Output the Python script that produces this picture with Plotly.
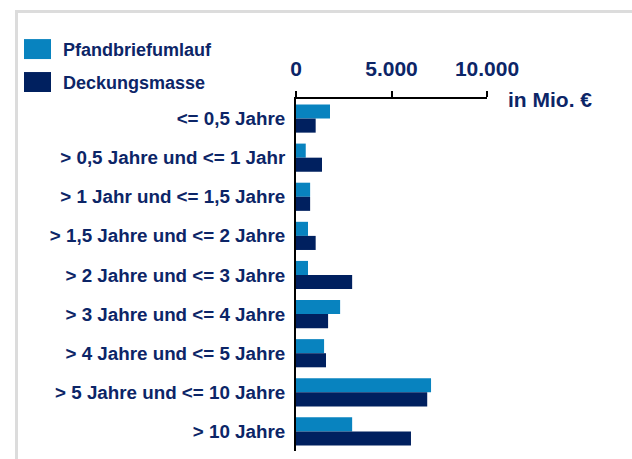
import plotly.graph_objects as go

categories = [
    "<= 0,5 Jahre",
    "> 0,5 Jahre und <= 1 Jahr",
    "> 1 Jahr und <= 1,5 Jahre",
    "> 1,5 Jahre und <= 2 Jahre",
    "> 2 Jahre und <= 3 Jahre",
    "> 3 Jahre und <= 4 Jahre",
    "> 4 Jahre und <= 5 Jahre",
    "> 5 Jahre und <= 10 Jahre",
    "> 10 Jahre",
]
pfandbriefumlauf = [1780, 510, 740, 630, 630, 2310, 1470, 7070, 2940]
deckungsmasse = [1030, 1360, 740, 1030, 2940, 1680, 1570, 6870, 6020]
series_names = ["Pfandbriefumlauf", "Deckungsmasse"]
tick_values = [0, 5000, 10000]
tick_labels = ["0", "5.000", "10.000"]
unit_label = "in Mio. €"

C_LIGHT = "#0883bf"
C_DARK = "#00205f"
C_TEXT = "#0c2567"
FONT = "Arial, Liberation Sans, sans-serif"

W, H = 632, 459
L, R = 296, 487
T, B = 99, 451.5


def px(x):
    return (x - L) / (R - L)


def py(y):
    return (B - y) / (B - T)


fig = go.Figure()
fig.add_trace(go.Bar(y=categories, x=pfandbriefumlauf, orientation="h",
                     name=series_names[0], marker=dict(color=C_LIGHT, line=dict(width=0))))
fig.add_trace(go.Bar(y=categories, x=deckungsmasse, orientation="h",
                     name=series_names[1], marker=dict(color=C_DARK, line=dict(width=0))))

shapes = [
    dict(type="rect", xref="paper", yref="paper", x0=px(16.5), x1=px(700), y0=py(520), y1=py(11.5),
         line=dict(color="#dcdcdc", width=3), fillcolor="rgba(0,0,0,0)", layer="below"),
    dict(type="rect", xref="paper", yref="paper", x0=px(24), x1=px(51), y0=py(59), y1=py(39),
         line=dict(width=0), fillcolor=C_LIGHT),
    dict(type="rect", xref="paper", yref="paper", x0=px(24), x1=px(51), y0=py(92), y1=py(72),
         line=dict(width=0), fillcolor=C_DARK),
]
annotations = [
    dict(text=series_names[0], xref="paper", yref="paper", x=px(61), y=py(50), xanchor="left",
         yanchor="middle", showarrow=False, font=dict(family=FONT, size=18, color=C_TEXT, weight="bold")),
    dict(text=series_names[1], xref="paper", yref="paper", x=px(61), y=py(83), xanchor="left",
         yanchor="middle", showarrow=False, font=dict(family=FONT, size=18, color=C_TEXT, weight="bold")),
    dict(text=unit_label, xref="paper", yref="paper", x=px(506), y=py(100), xanchor="left",
         yanchor="middle", showarrow=False, font=dict(family=FONT, size=21, color=C_TEXT, weight="bold")),
]

fig.update_layout(
    width=W, height=H,
    margin=dict(l=L, r=W - R, t=T, b=H - B, pad=0),
    paper_bgcolor="white", plot_bgcolor="white",
    barmode="group", bargap=0.28, bargroupgap=0,
    showlegend=False,
    shapes=shapes, annotations=annotations,
    xaxis=dict(side="top", range=[0, 10000], tickvals=tick_values, ticktext=tick_labels,
               showgrid=False, zeroline=False, showline=True, linecolor="black", linewidth=2,
               ticks="outside", ticklen=6, tickwidth=2, tickcolor="black", ticklabelstandoff=7,
               tickfont=dict(family=FONT, size=21, color=C_TEXT, weight="bold")),
    yaxis=dict(autorange="reversed", showgrid=False, zeroline=False, showline=True,
               linecolor="black", linewidth=2, ticks="", ticklabelstandoff=5,
               tickfont=dict(family=FONT, size=18.8, color=C_TEXT, weight="bold")),
)

fig.write_html("out.html", config={"displayModeBar": False},
               post_script="document.body.style.margin='0px';document.body.style.overflow='hidden';")
